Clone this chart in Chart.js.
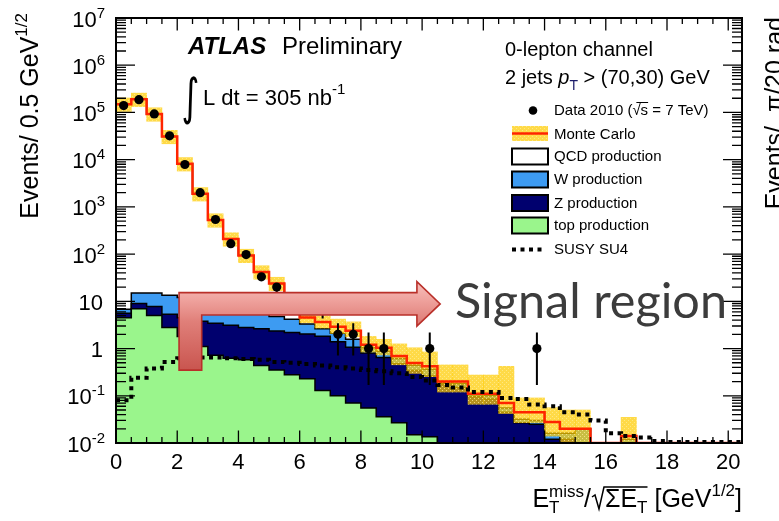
<!DOCTYPE html>
<html>
<head>
<meta charset="utf-8">
<script src="https://cdn.jsdelivr.net/npm/chart.js@4.4.0/dist/chart.umd.min.js"></script>
<style>
  html, body { margin: 0; padding: 0; background: #ffffff; }
  canvas { display: block; }
</style>
</head>
<body>
<canvas id="chart" width="779" height="521"></canvas>
<script>
// ---- Binning: E_T^miss / sqrt(sum E_T), 0.5 GeV^1/2 bins ----
const binEdges = [0, 0.5, 1, 1.5, 2, 2.5, 3, 3.5, 4, 4.5, 5, 5.5, 6, 6.5, 7, 7.5, 8, 8.5, 9, 9.5,
  10, 10.5, 11, 11.5, 12, 12.5, 13, 13.5, 14, 14.5, 15, 15.5, 16, 16.5, 17, 17.5, 18, 18.5, 19, 19.5, 20, 20.5];

// Observed events per bin (Data 2010)
const dataCounts = [140000, 186000, 93000, 32000, 7900, 2000, 541, 166, 98, 33, 20, 9, 8, 7, 2, 2, 1, 1, 0, 0,
  1, 0, 0, 0, 0, 0, 0, 1, 0, 0, 0, 0, 0, 0, 0, 0, 0, 0, 0, 0, 0];

// Monte Carlo components per bin
const qcdProd = [150000, 190000, 93000, 31000, 8190, 1890, 521, 202, 87.5, 36.5, 19.2, 6.8, 1.2, 1.0, 0.8, 0.8, 0.15, 0.17, 0.08, 0.05,
  0.06, 0.01, 0.02, 0.005, 0.01, 0.015, 0.013, 0.015, 0.012, 0.004, 0, 0, 0, 0.002, 0, 0, 0, 0, 0, 0, 0];
const wProd = [1.2, 6, 7.2, 8.2, 7.5, 6.2, 5.1, 4.4, 3.7, 2.9, 2.4, 2.0, 1.3, 0.8, 0.7, 0.5, 0.25, 0.23, 0.14, 0.1,
  0.1, 0.01, 0.03, 0.01, 0.015, 0.01, 0.005, 0.005, 0.004, 0.004, 0.02, 0, 0, 0.012, 0, 0, 0, 0, 0, 0, 0];
const zProd = [1.1, 2.0, 2.8, 2.5, 2.7, 2.7, 2.7, 2.5, 2.2, 2.2, 2.0, 1.9, 1.8, 1.7, 1.3, 1.0, 0.75, 0.61, 0.45, 0.33,
  0.25, 0.18, 0.15, 0.095, 0.085, 0.045, 0.027, 0.025, 0.012, 0.012, 0, 0, 0, 0, 0, 0, 0, 0, 0, 0, 0];
const topProd = [4.5, 7.0, 5.0, 2.8, 1.8, 1.1, 0.72, 0.62, 0.58, 0.44, 0.35, 0.28, 0.23, 0.13, 0.10, 0.07, 0.055, 0.036, 0.027, 0.015,
  0.0135, 0, 0, 0, 0, 0, 0, 0, 0, 0, 0, 0, 0, 0, 0, 0, 0, 0, 0, 0, 0];

// Relative systematic uncertainty on the MC total (up / down)
const mcUncUp = [0.35, 0.35, 0.35, 0.35, 0.35, 0.35, 0.35, 0.35, 0.35, 0.35, 0.35, 0.4, 0.25, 0.35, 0.45, 0.55, 0.5, 0.5, 0.8, 1.1,
  1.0, 1.25, 1.25, 1.5, 1.5, 5.0, 1.0, 1.0, 1.0, 1.5, 1.5, 0, 0, 1.5, 0, 0, 0, 0, 0, 0, 0];
const mcUncDown = [0.3, 0.3, 0.3, 0.3, 0.3, 0.3, 0.3, 0.3, 0.3, 0.3, 0.3, 0.3, 0.22, 0.25, 0.28, 0.25, 0.3, 0.3, 0.35, 0.4,
  0.4, 0.4, 0.4, 0.4, 0.4, 0.4, 0.4, 0.4, 0.5, 0.5, 0.5, 0, 0, 0.3, 0, 0, 0, 0, 0, 0, 0];

// SUSY benchmark SU4
const susySU4 = [0.08, 0.24, 0.38, 0.52, 0.62, 0.65, 0.65, 0.62, 0.6, 0.58, 0.52, 0.5, 0.47, 0.44, 0.4, 0.38, 0.35, 0.33, 0.3, 0.25,
  0.21, 0.17, 0.15, 0.12, 0.12, 0.09, 0.085, 0.065, 0.06, 0.045, 0.04, 0.03, 0.016, 0.014, 0.013, 0.011, 0.0105, 0.0105, 0.0105, 0.0105, 0.0105];

// Poisson-style intervals used for very low counts
const lowCountInterval = { 1: [0.17, 2.2], 2: [0.71, 3.45] };

// Axis ticks
const xTickValues = [0, 2, 4, 6, 8, 10, 12, 14, 16, 18, 20];
const yTickExponents = [-2, -1, 0, 1, 2, 3, 4, 5, 6, 7];

const X_MIN = 0, X_MAX = 20.45, Y_MIN = 1e-2, Y_MAX = 1e7;
const SANS = '"Liberation Sans", Arial, Helvetica, sans-serif';
const COLORS = {
  top: '#9af58c',
  w: '#3d9bf2',
  z: '#00006e',
  qcd: '#ffffff',
  mc: '#ff2400',
  band: 'rgba(255, 204, 0, 0.72)'
};

// ---- derived series for the stack ----
const cumTop = topProd.slice();
const cumZ = cumTop.map((v, i) => v + zProd[i]);
const cumW = cumZ.map((v, i) => v + wProd[i]);
const mcTotal = cumW.map((v, i) => v + qcdProd[i]);
const binCenter = i => (binEdges[i] + binEdges[i + 1]) / 2;

function stepPoints(values) {
  const pts = values.map((v, i) => ({ x: binEdges[i], y: v > 0 ? v : Y_MIN }));
  pts.push({ x: binEdges[values.length], y: pts[pts.length - 1].y });
  return pts;
}

const bandData = mcTotal.map((v, i) => ({
  x: binCenter(i),
  y: (v > 0 && mcUncUp[i] > 0) ? [v * (1 - mcUncDown[i]), v * (1 + mcUncUp[i])] : null
}));

const dataPoints = [];
dataCounts.forEach((n, i) => { if (n > 0) dataPoints.push({ x: binCenter(i), y: n }); });

// dotted yellow texture for the MC uncertainty band
function makeBandPattern() {
  const c = document.createElement('canvas');
  c.width = 4; c.height = 4;
  const g = c.getContext('2d');
  g.fillStyle = COLORS.band;
  g.fillRect(0, 0, 4, 4);
  g.fillStyle = 'rgba(255, 236, 150, 0.75)';
  g.fillRect(0, 0, 1, 1);
  g.fillRect(2, 2, 1, 1);
  return g.createPattern(c, 'repeat');
}

// ---- text helpers ----
function fontOf(r) {
  return `${r.italic ? 'italic ' : ''}${r.bold ? 'bold ' : ''}${r.size}px ${r.family || SANS}`;
}
function drawRuns(ctx, runs, x, y, align) {
  ctx.textAlign = 'left';
  ctx.textBaseline = 'alphabetic';
  const widths = runs.map(r => {
    if (r.space !== undefined) return r.space;
    ctx.font = fontOf(r);
    return ctx.measureText(r.t).width;
  });
  let total = 0;
  runs.forEach((r, i) => { if (!r.noAdvance) total += widths[i]; });
  let cx = align === 'right' ? x - total : align === 'center' ? x - total / 2 : x;
  const xs = [];
  runs.forEach((r, i) => {
    xs.push(cx);
    if (r.t) {
      ctx.font = fontOf(r);
      ctx.fillStyle = r.color || '#000';
      ctx.fillText(r.t, cx, y + (r.dy || 0));
    }
    if (!r.noAdvance) cx += widths[i];
  });
  xs.push(cx);
  return xs;
}
function drawFittedGlyph(ctx, text, font, left, top, w, h) {
  ctx.save();
  ctx.font = font;
  ctx.textAlign = 'left';
  ctx.textBaseline = 'alphabetic';
  const m = ctx.measureText(text);
  const gw = m.actualBoundingBoxLeft + m.actualBoundingBoxRight;
  const gh = m.actualBoundingBoxAscent + m.actualBoundingBoxDescent;
  ctx.translate(left, top);
  ctx.scale(w / gw, h / gh);
  ctx.fillStyle = '#000';
  ctx.fillText(text, m.actualBoundingBoxLeft, m.actualBoundingBoxAscent);
  ctx.restore();
}

// Bent "signal region" arrow, in data coordinates
const signalArrow = {
  xLeft: 2.06, xStem: 2.8, xHead: 9.83, xTip: 10.59,
  yBottom: 0.35, yBarTop: 15.3, yBarBottom: 5.15, yHeadTop: 26, yHeadBottom: 3.0, yTip: 8.8
};

const decorations = {
  id: 'rootStyle',
  afterDatasetsDraw(chart) {
    const { ctx, chartArea: a, scales: { x, y } } = chart;
    ctx.save();

    // data error bars
    ctx.strokeStyle = '#000';
    ctx.lineWidth = 2;
    ctx.beginPath();
    dataCounts.forEach((n, i) => {
      if (n <= 0) return;
      const iv = lowCountInterval[n] || [n - Math.sqrt(n), n + Math.sqrt(n)];
      const px = x.getPixelForValue(binCenter(i));
      const yLo = iv[0] > 0 ? Math.min(y.getPixelForValue(iv[0]), a.bottom) : a.bottom;
      ctx.moveTo(px, yLo);
      ctx.lineTo(px, y.getPixelForValue(iv[1]));
    });
    ctx.stroke();

    // frame ticks (inward, on all four sides)
    ctx.lineWidth = 1.3;
    ctx.beginPath();
    for (let d = -2; d <= 7; d++) {
      for (let k = 1; k <= 9; k++) {
        const v = k * Math.pow(10, d);
        if (v > Y_MAX * 1.0001) break;
        const py = y.getPixelForValue(v);
        const len = k === 1 ? 19 : 10;
        ctx.moveTo(a.left, py); ctx.lineTo(a.left + len, py);
        ctx.moveTo(a.right, py); ctx.lineTo(a.right - len, py);
      }
    }
    for (let i = 0; i * 0.5 <= X_MAX; i++) {
      const px = x.getPixelForValue(i * 0.5);
      const len = i % 4 === 0 ? 12.5 : 6;
      ctx.moveTo(px, a.bottom); ctx.lineTo(px, a.bottom - len);
      ctx.moveTo(px, a.top); ctx.lineTo(px, a.top + len);
    }
    ctx.stroke();
    ctx.lineWidth = 2;
    ctx.strokeRect(a.left, a.top, a.right - a.left, a.bottom - a.top);

    // tick labels
    xTickValues.forEach(v => {
      ctx.font = `22px ${SANS}`;
      ctx.fillStyle = '#000';
      ctx.textAlign = 'center';
      ctx.textBaseline = 'alphabetic';
      ctx.fillText(String(v), x.getPixelForValue(v), 469);
    });
    yTickExponents.forEach(e => {
      const py = y.getPixelForValue(Math.pow(10, e)) + 8.5;
      if (e === 0) drawRuns(ctx, [{ t: '1', size: 22 }], 103, py, 'right');
      else if (e === 1) drawRuns(ctx, [{ t: '10', size: 22 }], 103, py, 'right');
      else drawRuns(ctx, [{ t: '10', size: 22 }, { t: String(e), size: 15, dy: -9 }], 105, py, 'right');
    });

    // axis titles
    ctx.save();
    ctx.translate(38, 13);
    ctx.rotate(-Math.PI / 2);
    drawRuns(ctx, [{ t: 'Events/ 0.5 GeV', size: 25 }, { t: '1/2', size: 17, dy: -11 }], 0, 0, 'right');
    ctx.restore();

    ctx.save();
    ctx.translate(783, 17);
    ctx.rotate(-Math.PI / 2);
    drawRuns(ctx, [{ t: 'Events/  \u03c0/20 rad', size: 25 }], 0, 0, 'right');
    ctx.restore();

    const xt = drawRuns(ctx, [
      { t: 'E', size: 25 },
      { t: 'T', size: 17, dy: 6, noAdvance: true },
      { t: 'miss', size: 17, dy: -10 },
      { t: '/', size: 25 },
      { space: 14 },
      { t: '\u03a3E', size: 25 },
      { t: 'T', size: 17, dy: 6 },
      { t: ' [GeV', size: 25 },
      { t: '1/2', size: 17, dy: -11 },
      { t: ']', size: 25 }
    ], 742, 507, 'right');
    const rx = xt[4];
    ctx.lineWidth = 1.5;
    ctx.beginPath();
    ctx.moveTo(rx + 1, 497);
    ctx.lineTo(rx + 4, 495);
    ctx.lineTo(rx + 8, 509);
    ctx.lineTo(rx + 13, 487);
    ctx.lineTo(xt[7], 487);
    ctx.stroke();

    // ATLAS label and luminosity
    drawRuns(ctx, [{ t: 'ATLAS', size: 24, bold: true, italic: true }], 188, 54, 'left');
    drawRuns(ctx, [{ t: 'Preliminary', size: 24 }], 282, 54, 'left');
    drawFittedGlyph(ctx, '\u222b', `48px "DejaVu Sans"`, 183, 75, 15, 50);
    drawRuns(ctx, [{ t: 'L dt = 305 nb', size: 22 }, { t: '-1', size: 15, dy: -11 }], 203, 105, 'left');

    // channel description
    drawRuns(ctx, [{ t: '0-lepton channel', size: 20 }], 505, 56, 'left');
    drawRuns(ctx, [
      { t: '2 jets ', size: 20 },
      { t: 'p', size: 20, italic: true },
      { t: 'T', size: 14, dy: 6, color: '#1c1c6a' },
      { t: ' > (70,30) GeV', size: 20 }
    ], 505, 84, 'left');

    // legend
    const lx = 512, lw = 36, tx = 554;
    const leg = [
      { kind: 'marker', base: 115 },
      { kind: 'band', base: 138.5, label: 'Monte Carlo' },
      { kind: 'box', base: 161, label: 'QCD production', color: COLORS.qcd },
      { kind: 'box', base: 184, label: 'W production', color: COLORS.w },
      { kind: 'box', base: 207.5, label: 'Z production', color: COLORS.z },
      { kind: 'box', base: 230, label: 'top production', color: COLORS.top },
      { kind: 'dots', base: 254, label: 'SUSY SU4' }
    ];
    leg.forEach(item => {
      const b = item.base;
      if (item.kind === 'marker') {
        ctx.fillStyle = '#000';
        ctx.beginPath();
        ctx.arc(533, b - 4.5, 4.3, 0, Math.PI * 2);
        ctx.fill();
        const xs = drawRuns(ctx, [
          { t: 'Data 2010 (', size: 15 },
          { t: '\u221a', size: 15 },
          { t: 's', size: 15 },
          { t: ' = 7 TeV)', size: 15 }
        ], tx, b, 'left');
        ctx.strokeStyle = '#000';
        ctx.lineWidth = 1;
        ctx.beginPath();
        ctx.moveTo(xs[1] + 4, b - 12.5);
        ctx.lineTo(xs[3], b - 12.5);
        ctx.stroke();
        return;
      }
      if (item.kind === 'band') {
        ctx.fillStyle = makeBandPattern();
        ctx.fillRect(lx, b - 12.5, lw, 15);
        ctx.strokeStyle = COLORS.mc;
        ctx.lineWidth = 2.5;
        ctx.beginPath();
        ctx.moveTo(lx, b - 5); ctx.lineTo(lx + lw, b - 5);
        ctx.stroke();
      } else if (item.kind === 'box') {
        ctx.fillStyle = item.color;
        ctx.fillRect(lx, b - 12.5, lw, 16);
        ctx.strokeStyle = '#000';
        ctx.lineWidth = 2;
        ctx.strokeRect(lx, b - 12.5, lw, 16);
      } else if (item.kind === 'dots') {
        ctx.strokeStyle = '#000';
        ctx.lineWidth = 4;
        ctx.setLineDash([4, 4.5]);
        ctx.beginPath();
        ctx.moveTo(lx, b - 4.5); ctx.lineTo(lx + 34, b - 4.5);
        ctx.stroke();
        ctx.setLineDash([]);
      }
      drawRuns(ctx, [{ t: item.label, size: 15 }], tx, b, 'left');
    });

    // signal region arrow
    const A = signalArrow;
    const X = v => x.getPixelForValue(v), Y = v => y.getPixelForValue(v);
    const grad = ctx.createLinearGradient(0, Y(A.yHeadTop), 0, Y(A.yBottom));
    grad.addColorStop(0, '#f7c0bc');
    grad.addColorStop(0.22, '#ee a09b'.replace(' ', ''));
    grad.addColorStop(0.45, '#e07f79');
    grad.addColorStop(1, '#c9554f');
    ctx.beginPath();
    ctx.moveTo(X(A.xLeft), Y(A.yBottom));
    ctx.lineTo(X(A.xLeft), Y(A.yBarTop));
    ctx.lineTo(X(A.xHead), Y(A.yBarTop));
    ctx.lineTo(X(A.xHead), Y(A.yHeadTop));
    ctx.lineTo(X(A.xTip), Y(A.yTip));
    ctx.lineTo(X(A.xHead), Y(A.yHeadBottom));
    ctx.lineTo(X(A.xHead), Y(A.yBarBottom));
    ctx.lineTo(X(A.xStem), Y(A.yBarBottom));
    ctx.lineTo(X(A.xStem), Y(A.yBottom));
    ctx.closePath();
    ctx.fillStyle = grad;
    ctx.fill();
    ctx.strokeStyle = '#b9302a';
    ctx.lineWidth = 1.6;
    ctx.lineJoin = 'miter';
    ctx.stroke();

    // "Signal region" caption
    ctx.save();
    ctx.font = '48px Lato, "Open Sans", sans-serif';
    const sw = ctx.measureText('Signal region').width;
    ctx.translate(455, 318);
    ctx.scale(272 / sw, 1);
    ctx.fillStyle = '#3c3c3c';
    ctx.textAlign = 'left';
    ctx.textBaseline = 'alphabetic';
    ctx.fillText('Signal region', 0, 0);
    ctx.restore();

    ctx.restore();
  }
};

const stackLine = (label, values, color) => ({
  label, type: 'line', data: stepPoints(values), stepped: true,
  borderColor: '#000', borderWidth: 1.5, backgroundColor: color,
  fill: 'start', pointRadius: 0
});

new Chart(document.getElementById('chart'), {
  type: 'line',
  data: {
    datasets: [
      { label: 'Data 2010', type: 'line', data: dataPoints, showLine: false,
        pointRadius: 4.6, pointBackgroundColor: '#000', pointBorderWidth: 0, pointBorderColor: '#000' },
      { label: 'SUSY SU4', type: 'line', data: stepPoints(susySU4), stepped: true,
        borderColor: '#000', borderWidth: 4, borderDash: [4, 4.5], borderCapStyle: 'butt', pointRadius: 0, fill: false },
      { label: 'Monte Carlo', type: 'line', data: stepPoints(mcTotal), stepped: true,
        borderColor: COLORS.mc, borderWidth: 2.5, pointRadius: 0, fill: false },
      { label: 'MC uncertainty', type: 'bar', data: bandData, backgroundColor: makeBandPattern(),
        borderWidth: 0, barPercentage: 1, categoryPercentage: 1, grouped: false },
      stackLine('top production', cumTop, COLORS.top),
      stackLine('Z production', cumZ, COLORS.z),
      stackLine('W production', cumW, COLORS.w),
      stackLine('QCD production', mcTotal, COLORS.qcd)
    ]
  },
  options: {
    responsive: false,
    devicePixelRatio: 1,
    animation: false,
    events: [],
    layout: { padding: { left: 116, right: 37, top: 18, bottom: 78 } },
    scales: {
      x: { type: 'linear', min: X_MIN, max: X_MAX, offset: false, display: false },
      y: { type: 'logarithmic', min: Y_MIN, max: Y_MAX, display: false }
    },
    plugins: { legend: { display: false }, tooltip: { enabled: false } }
  },
  plugins: [decorations]
});
</script>
</body>
</html>
